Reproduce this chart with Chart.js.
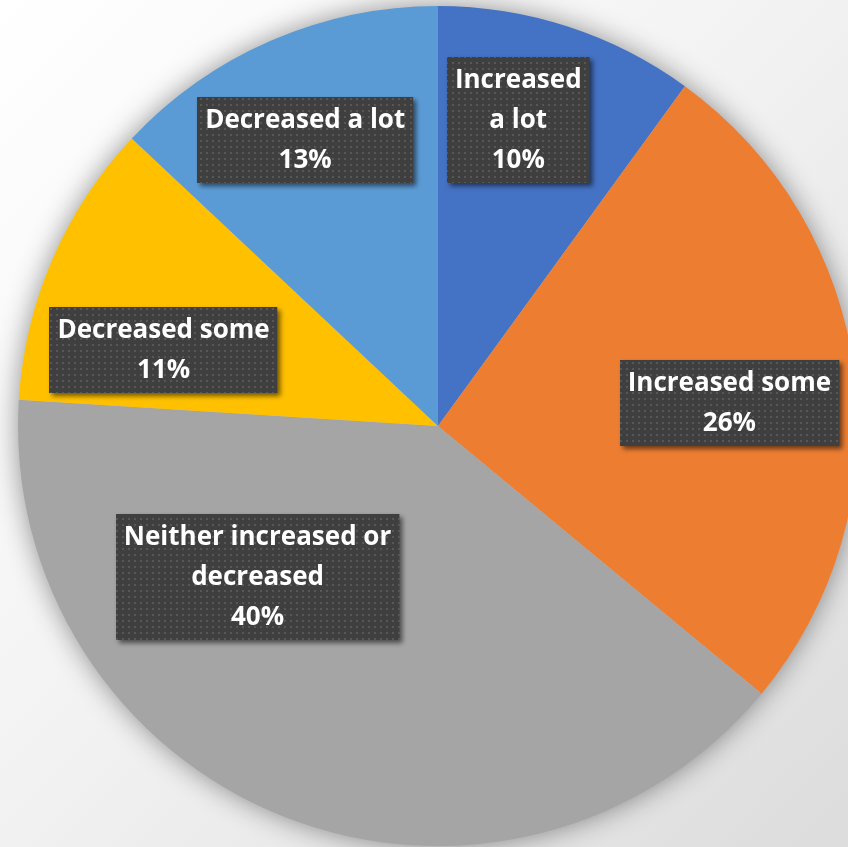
<!DOCTYPE html>
<html>
<head>
<meta charset="utf-8">
<script src="https://cdn.jsdelivr.net/npm/chart.js@4"></script>
<style>
  html, body { margin: 0; padding: 0; overflow: hidden; }
  body {
    width: 848px; height: 847px;
    background: linear-gradient(135deg, #ffffff 0%, #f3f3f3 45%, #dcdcdc 100%);
  }
  #chart { display: block; }
</style>
</head>
<body>
<canvas id="chart" width="860" height="847"></canvas>
<script>
'use strict';

/* データ */
const categories = ['Increased a lot', 'Increased some', 'Neither increased or decreased', 'Decreased some', 'Decreased a lot'];
const shares = [10, 26, 40, 11, 13];
const labelLines = [['Increased', 'a lot'], ['Increased some'], ['Neither increased or', 'decreased'], ['Decreased some'], ['Decreased a lot']];

/* 見た目 */
const SLICE_COLORS = ['#4472C4', '#ED7D31', '#A5A5A5', '#FFC000', '#5B9BD5'];
// ラベル位置: [上から時計回りの角度(度), 半径に対する距離の比]
const LABEL_ANCHORS = [[14.7, 0.753], [85.4, 0.696], [230.1, 0.56], [285.5, 0.678], [335.1, 0.751]];
const LABEL_FONT = 'bold 26px "Open Sans", sans-serif';
const LINE_H = 40;
const PAD_X = 8;

/* ラベル箱のドット柄 */
function makeDotPattern(ctx) {
  const c = document.createElement('canvas');
  c.width = 6; c.height = 6;
  const g = c.getContext('2d');
  g.fillStyle = '#3f3f3f';
  g.fillRect(0, 0, 6, 6);
  g.fillStyle = '#575757';
  g.fillRect(2, 2, 2, 2);
  return ctx.createPattern(c, 'repeat');
}

/* 円の影 */
const pieShadow = {
  id: 'pieShadow',
  beforeDatasetsDraw(chart) {
    const arc = chart.getDatasetMeta(0).data[0];
    if (!arc) return;
    const ctx = chart.ctx;
    ctx.save();
    ctx.shadowColor = 'rgba(0,0,0,0.45)';
    ctx.shadowBlur = 28;
    ctx.fillStyle = '#bbbbbb';
    ctx.beginPath();
    ctx.arc(arc.x, arc.y, arc.outerRadius - 1, 0, Math.PI * 2);
    ctx.fill();
    ctx.restore();
  },
};

/* データラベル（暗い箱＋白文字） */
const boxLabels = {
  id: 'boxLabels',
  afterDatasetsDraw(chart) {
    const meta = chart.getDatasetMeta(0);
    const ctx = chart.ctx;
    const pattern = makeDotPattern(ctx);
    ctx.save();
    ctx.font = LABEL_FONT;
    meta.data.forEach((arc, i) => {
      const [deg, frac] = LABEL_ANCHORS[i];
      const a = deg * Math.PI / 180;
      const cx = arc.x + Math.sin(a) * arc.outerRadius * frac;
      const cy = arc.y - Math.cos(a) * arc.outerRadius * frac;
      const lines = labelLines[i].concat([shares[i] + '%']);
      const w = Math.max(...lines.map((t) => ctx.measureText(t).width)) + PAD_X * 2;
      const h = lines.length * LINE_H + 6;
      const x0 = Math.round(cx - w / 2);
      const y0 = Math.round(cy - h / 2);

      ctx.save();
      ctx.shadowColor = 'rgba(0,0,0,0.55)';
      ctx.shadowBlur = 5;
      ctx.shadowOffsetX = 3;
      ctx.shadowOffsetY = 3;
      ctx.fillStyle = pattern;
      ctx.fillRect(x0, y0, w, h);
      ctx.restore();

      ctx.fillStyle = '#ffffff';
      ctx.textAlign = 'center';
      ctx.textBaseline = 'middle';
      lines.forEach((t, j) => {
        ctx.fillText(t, cx, y0 + 4 + LINE_H / 2 + j * LINE_H);
      });
    });
    ctx.restore();
  },
};

new Chart(document.getElementById('chart'), {
  type: 'pie',
  data: {
    labels: categories,
    datasets: [{
      data: shares,
      backgroundColor: SLICE_COLORS,
      borderWidth: 0,
    }],
  },
  options: {
    responsive: false,
    animation: false,
    layout: { padding: { left: 18, right: 2, top: 6, bottom: 1 } },
    plugins: {
      legend: { display: false },
      tooltip: { enabled: false },
    },
  },
  plugins: [pieShadow, boxLabels],
});
</script>
</body>
</html>
